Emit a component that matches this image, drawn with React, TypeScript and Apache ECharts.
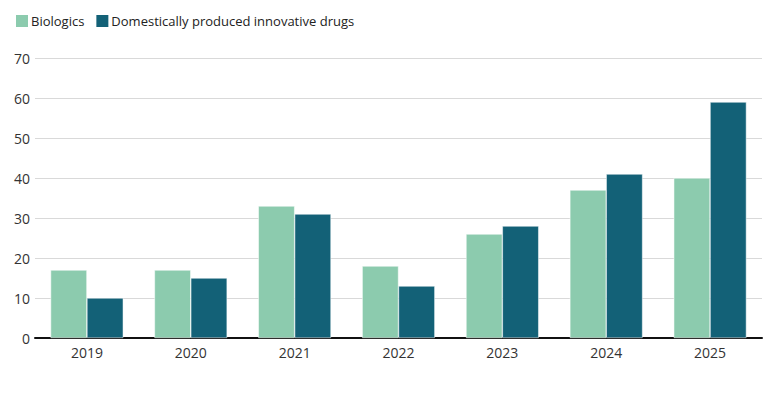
import React, { useEffect, useRef } from "react";
import * as echarts from "echarts";
import type { EChartsOption } from "echarts";

const years = ["2019", "2020", "2021", "2022", "2023", "2024", "2025"];
const biologics = [17, 17, 33, 18, 26, 37, 40];
const domesticDrugs = [10, 15, 31, 13, 28, 41, 59];

const App: React.FC = () => {
  const chartRef = useRef<HTMLDivElement | null>(null);

  useEffect(() => {
    document.body.style.margin = "0";
    if (!chartRef.current) return;
    const myChart = echarts.init(chartRef.current, null, { renderer: "svg" });

    const font = "'Open Sans', 'Noto Sans', sans-serif";

    const option: EChartsOption = {
      animation: false,
      textStyle: { fontFamily: font },
      legend: {
        left: 9,
        top: 8,
        itemWidth: 14,
        itemHeight: 14,
        itemGap: 10,
        icon: "rect",
        textStyle: { fontSize: 13, color: "#222", padding: [0, 0, 0, -3] },
        data: ["Biologics", "Domestically produced innovative drugs"],
      },
      grid: { left: 35, right: 18, top: 58, bottom: 62 },
      xAxis: {
        type: "category",
        data: years,
        axisLine: { lineStyle: { color: "#111", width: 2 } },
        axisTick: { show: false },
        axisLabel: { fontSize: 14, color: "#333", margin: 7 },
      },
      yAxis: {
        type: "value",
        min: 0,
        max: 70,
        interval: 10,
        axisLine: { show: false },
        axisTick: { show: false },
        axisLabel: { fontSize: 14, color: "#333", margin: 5 },
        splitLine: { lineStyle: { color: "#d9d9d9", width: 1 } },
      },
      series: [
        {
          name: "Biologics",
          type: "bar",
          data: biologics,
          barWidth: "35%",
          barGap: "0%",
          itemStyle: { color: "#8ccbae", borderColor: "#ffffff", borderWidth: 0.5 },
        },
        {
          name: "Domestically produced innovative drugs",
          type: "bar",
          data: domesticDrugs,
          barWidth: "35%",
          barGap: "0%",
          itemStyle: { color: "#136177", borderColor: "#ffffff", borderWidth: 0.5 },
        },
      ],
    };

    myChart.setOption(option);
    return () => {
      myChart.dispose();
    };
  }, []);

  return <div ref={chartRef} style={{ width: "780px", height: "400px" }} />;
};

export default App;
